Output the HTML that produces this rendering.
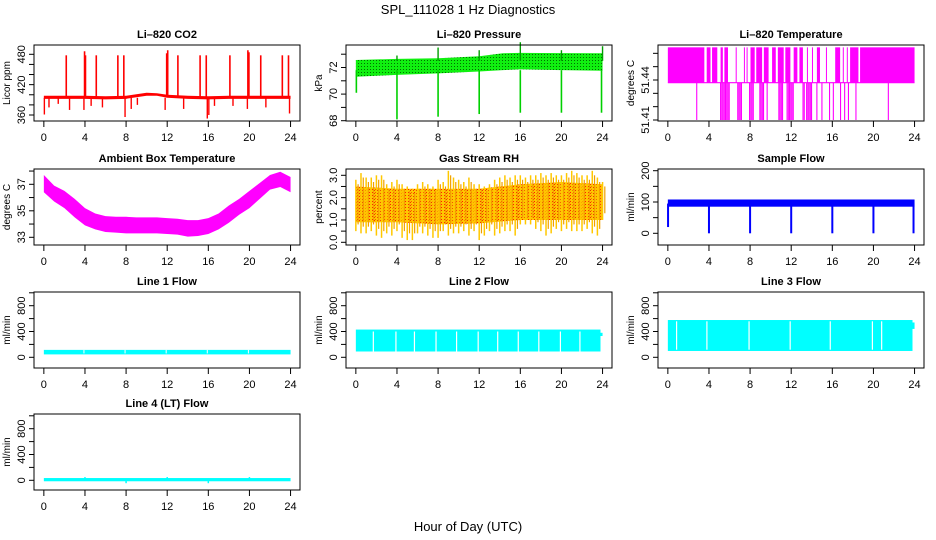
<!DOCTYPE html>
<html><head><meta charset="utf-8"><style>
html,body{margin:0;padding:0;background:#fff;}
svg{display:block;font-family:"Liberation Sans",Arial,sans-serif;}
</style></head><body>
<svg id="chart" width="936" height="540" viewBox="0 0 936 540" xmlns="http://www.w3.org/2000/svg">
<defs>
<pattern id="rhpat" width="3" height="3" patternUnits="userSpaceOnUse"><rect width="3" height="3" fill="#ffc400"/><rect x="0" y="0" width="1" height="1" fill="#ff2000"/><rect x="2" y="1" width="1" height="1" fill="#f03000"/></pattern>
<pattern id="prpat" width="3" height="3" patternUnits="userSpaceOnUse"><rect width="3" height="3" fill="#10f010"/><rect x="1" y="0" width="1" height="1" fill="#007000"/></pattern>
</defs>
<text x="468" y="14" text-anchor="middle" font-size="13">SPL_111028  1 Hz Diagnostics</text>
<text x="468" y="531" text-anchor="middle" font-size="13">Hour of Day (UTC)</text>
</svg>
<script>
// ---------- data ----------
const xTicks=[0,4,8,12,16,20,24];
// CO2
const co2BaseHours=[0,2,4,6,8,9,10,11,12,14,16,18,20,22,24];
const co2BaseLo=[392,392,392,391,392,395,398,398,394,392,391,392,392,392,392];
const co2BaseHi=[398,398,398,397,398,401,404,403,400,398,397,398,398,398,398];
const co2SpikeHours=[2.18,3.96,4.05,5.1,7.2,7.78,11.95,12.05,13.04,15.2,15.8,18.1,19.85,19.95,21.1,23.2,23.8];
const co2SpikeValues=[478,486,478,478,478,478,482,488,478,478,478,478,488,484,478,478,478];
const co2DipHours=[0.05,0.5,1.4,2.5,3.9,4.6,5.7,7.9,8.5,9.1,11.8,13.6,15.9,16.05,16.6,18.4,19.8,21.6,23.9];
const co2DipValues=[361,375,382,370,370,378,375,356,372,380,370,372,353,360,378,378,372,375,363];
const co2Ticks=[360,380,400,420,440,460,480];
const co2Labels=["360","","","420","","","480"];
// Pressure
const prHours=[0,4,8,12,14.3,16,20,24];
const prLo=[71.3,71.45,71.56,71.7,71.8,71.86,71.8,71.76];
const prHi=[72.56,72.65,72.7,72.85,73.07,73.1,73.08,73.07];
const prDipHours=[0.05,4.0,8.0,12.0,16.0,20.0,23.9];
const prDipValues=[70.1,68.1,68.3,68.5,68.6,68.6,68.6];
const prUpHours=[4.0,8.0,12.0,16.0,20.0,24.0];
const prUpValues=[72.9,73.5,73.3,73.9,73.3,73.6];
const prTicks=[68,69,70,71,72,73];
const prLabels=["68","","70","","72",""];
// Li-820 temperature
const ltHigh=51.4645, ltMid=51.438, ltLow=51.41;
const ltUpStart=[0,3.78,4.3,5.13,5.5,6.6,7.4,7.66,8.04,8.6,9.34,10.14,10.7,11.43,12.24,12.8,13.53,14.02,14.5,15.38,16.28,17.02,17.41,17.73,18.7];
const ltUpEnd=[3.55,4.15,4.81,5.35,5.85,6.65,7.45,7.7,8.45,9.17,9.8,10.5,11.27,11.92,12.6,13.14,13.58,14.07,14.8,15.43,16.76,17.07,17.46,18.54,24];
const ltLowStart=[2.81,5.13,6.8,7.95,8.95,9.66,10.8,11.6,13.15,13.5,14.5,14.99,15.73,16.1,16.8,17.2,17.57,18.3,21.45];
const ltLowEnd=[2.86,6.0,7.2,8.4,9.4,9.7,11.27,12.24,13.37,14.0,14.55,15.03,15.77,16.15,16.85,17.25,17.62,18.35,21.5];
const ltTicks=[51.41,51.42,51.43,51.44,51.45,51.46];
const ltLabels=["51.41","","","51.44","",""];
// Ambient box temperature
const ambHours=[0,1,2,3,4,5,6,7,8,9,10,11,12,13,14,15,16,17,18,19,20,21,22,23,24];
const ambLo=[36.4,35.7,35.2,34.5,33.9,33.6,33.4,33.35,33.3,33.3,33.3,33.3,33.25,33.2,33.05,33.1,33.25,33.6,34.1,34.7,35.2,35.9,36.6,36.8,36.4];
const ambHi=[37.7,36.9,36.5,35.9,35.2,34.8,34.6,34.55,34.55,34.5,34.5,34.5,34.45,34.4,34.3,34.3,34.45,34.8,35.4,35.9,36.5,37.1,37.7,37.95,37.55];
const ambTicks=[33,34,35,36,37,38];
const ambLabels=["33","","35","","37",""];
// Gas stream RH
const rhHours=[0,0.5,1,1.5,2,2.5,3,3.5,4,4.5,5,5.5,6,6.5,7,7.5,8,8.5,9,9.5,10,10.5,11,11.5,12,12.5,13,13.5,14,14.5,15,15.5,16,16.5,17,17.5,18,18.5,19,19.5,20,20.5,21,21.5,22,22.5,23,23.5,24];
const rhHi=[2.8,3.1,2.9,2.9,3.0,3.0,2.6,2.7,2.8,2.6,2.5,2.4,2.6,2.7,2.6,2.5,2.8,2.7,3.2,2.9,2.8,2.7,2.9,2.6,2.6,2.5,2.6,2.8,2.9,3.0,2.9,3.0,3.0,2.9,3.0,3.0,3.1,3.0,3.1,3.0,3.0,3.1,3.2,3.1,3.0,3.0,3.2,2.9,2.7];
const rhLo=[0.5,0.4,0.4,0.5,0.3,0.2,0.4,0.3,0.5,0.2,0.1,0.1,0.4,0.4,0.3,0.2,0.2,0.5,0.3,0.4,0.4,0.5,0.3,0.5,0.1,0.3,0.5,0.3,0.4,0.5,0.5,0.3,0.8,0.8,0.8,0.6,0.5,0.3,0.4,0.6,0.5,0.6,0.5,0.5,0.5,0.6,0.4,0.3,1.0];
const rhCoreHours=[0,4,8,12,16,20,24];
const rhCoreLo=[0.9,0.9,0.8,0.85,1.0,1.0,1.0];
const rhCoreHi=[2.5,2.4,2.4,2.4,2.6,2.7,2.6];
const rhTicks=[0,0.5,1,1.5,2,2.5,3];
const rhLabels=["0.0","","1.0","","2.0","","3.0"];
// Sample flow
const sfBandLo=85, sfBandHi=108;
const sfDipHours=[0.02,4.0,8.0,12.0,16.0,20.0,23.9];
const sfDipValues=[20,0,0,0,0,0,0];
const sfTicks=[0,50,100,150,200];
const sfLabels=["0","","100","","200"];
// Line flows
const lfTicks=[0,200,400,600,800,1000];
const lfLabels=["0","","400","","800",""];
const l1Lo=45, l1Hi=115, l1GapHours=[3.9,7.9,11.9,15.9,19.9];
const l2Lo=90, l2Hi=430, l2End=23.8, l2GapHours=[1.7,3.9,5.7,7.8,9.8,11.9,13.8,15.8,17.8,19.9,21.8];
const l3Lo=98, l3Hi=578, l3End=23.8, l3GapHours=[0.85,3.8,7.9,11.9,15.8,19.9,20.8];
const l4Lo=-15, l4Hi=35, l4BlipHours=[4,8,12,16,20], l4BlipValues=[50,-45,50,-45,50];

// ---------- layout ----------
const svg=document.getElementById('chart');
const NS='http://www.w3.org/2000/svg';
const cols=[34,346,658], rowsT=[45,169,292,414], PW=266, PH=76;
function mk(tag,attrs,parent){const e=document.createElementNS(NS,tag);for(const k in attrs)e.setAttribute(k,attrs[k]);(parent||svg).appendChild(e);return e;}
function panel(c,r,name,title,ylab,ticks,labels,v1,p1,v2,p2){
  const L=cols[c],T=rowsT[r];
  const g=mk('g',{});
  
  
  const x=h=>L+9.85+h*(246.7/24);
  const y=v=>p1+(v-v1)*(p2-p1)/(v2-v1);
  const plot=mk('g',{},g);
  
  
  const box=mk('rect',{x:L,y:T,width:PW,height:PH,fill:'none',stroke:'#000','stroke-width':1},g);
  
  
  const tt=mk('text',{x:L+PW/2,y:T-7,'text-anchor':'middle','font-size':11,'font-weight':'bold'},g);
  
  
  tt.textContent=title;
  const yl=mk('text',{x:L-24,y:T+PH/2,'text-anchor':'middle','font-size':10,transform:`rotate(-90 ${L-24} ${T+PH/2})`},g);
  
  
  yl.textContent=ylab;
  const xa=mk('g',{},g);
  
  
  xTicks.forEach(h=>{
    mk('line',{x1:x(h),x2:x(h),y1:T+PH,y2:T+PH+6,stroke:'#000'},xa);
    const t=mk('text',{x:x(h),y:T+PH+20,'text-anchor':'middle','font-size':11},xa);
    
    
    t.textContent=h;
  });
  const ya=mk('g',{},g);
  
  
  ticks.forEach((v,i)=>{
    const yy=y(v);
    mk('line',{x1:L-5,x2:L,y1:yy,y2:yy,stroke:'#000'},ya);
    if(labels[i]){const t=mk('text',{x:L-9,y:yy,'text-anchor':'middle','font-size':11,transform:`rotate(-90 ${L-9} ${yy})`},ya);
    
    
    t.textContent=labels[i];}
  });
  return {x,y,g:plot};
}
function band(p,hours,lo,hi,fill){
  let d='M'+hours.map((h,i)=>p.x(h)+','+p.y(hi[i])).join(' L');
  for(let i=hours.length-1;i>=0;i--)d+=' L'+p.x(hours[i])+','+p.y(lo[i]);
  return mk('path',{d:d+'Z',fill:fill},p.g);
}
function vline(p,h,a,b,col,w){return mk('line',{x1:p.x(h),x2:p.x(h),y1:p.y(a),y2:p.y(b),stroke:col,'stroke-width':w||1.5},p.g);}
function hrect(p,h1,h2,a,b,fill){return mk('rect',{x:p.x(h1),width:Math.max(1,p.x(h2)-p.x(h1)),y:p.y(b),height:p.y(a)-p.y(b),fill:fill},p.g);}

// CO2
let p=panel(0,0,'co2','Li\u2013820 CO2','Licor ppm',co2Ticks,co2Labels,360,115,480,54.3);
band(p,co2BaseHours,co2BaseLo,co2BaseHi,'#ff0000');
co2SpikeHours.forEach((h,i)=>vline(p,h,396,co2SpikeValues[i],'#ff0000',1.6));
co2DipHours.forEach((h,i)=>vline(p,h,394,co2DipValues[i],'#ff0000',1.4));
// Pressure
p=panel(1,0,'pressure','Li\u2013820 Pressure','kPa',prTicks,prLabels,68,120.7,72,67.5);
band(p,prHours,prLo,prHi,'url(#prpat)');
prDipHours.forEach((h,i)=>vline(p,h,71.8,prDipValues[i],'#00d000',1.6));
prUpHours.forEach((h,i)=>vline(p,h,72.5,prUpValues[i],'#00a000',1.4));
// Li temperature
p=panel(2,0,'li820-temperature','Li\u2013820 Temperature','degrees C',ltTicks,ltLabels,51.41,120,51.44,80);
ltUpStart.forEach((s,i)=>hrect(p,s,ltUpEnd[i],ltMid,ltHigh,'#ff00ff'));
mk('line',{x1:p.x(0),x2:p.x(24),y1:p.y(ltMid),y2:p.y(ltMid),stroke:'#ff00ff','stroke-width':1.2},p.g);
ltLowStart.forEach((s,i)=>{for(let h=s;h<=ltLowEnd[i]+1e-6;h+=0.12)vline(p,h,ltMid,ltLow,'#ff00ff',1.1);});
// Ambient
p=panel(0,1,'ambient-temperature','Ambient Box Temperature','degrees C',ambTicks,ambLabels,33,237.3,37,184.3);
band(p,ambHours,ambLo,ambHi,'#ff00ff');
// RH
p=panel(1,1,'gas-stream-rh','Gas Stream RH','percent',rhTicks,rhLabels,0,242.3,3,175.3);
band(p,rhCoreHours,rhCoreLo,rhCoreHi,'url(#rhpat)');
rhHours.forEach((h,i)=>{vline(p,h,rhLo[i],rhHi[i],'#ffc800',1.5);vline(p,h+0.22,rhLo[i]+0.3,rhHi[i]-0.2,'#f0a000',1.2);});
// Sample flow
p=panel(2,1,'sample-flow','Sample Flow','ml/min',sfTicks,sfLabels,0,233.3,200,170.7);
hrect(p,0,24,sfBandLo,sfBandHi,'#0000ff');
sfDipHours.forEach((h,i)=>vline(p,h,95,sfDipValues[i],'#0000ff',2));
// Line 1
p=panel(0,2,'line1-flow','Line 1 Flow','ml/min',lfTicks,lfLabels,0,357.3,800,305.7);
hrect(p,0,24,l1Lo,l1Hi,'#00ffff');
l1GapHours.forEach(h=>vline(p,h,l1Lo+15,l1Hi,'#ffffff',1));
// Line 2
p=panel(1,2,'line2-flow','Line 2 Flow','ml/min',lfTicks,lfLabels,0,357.3,800,305.7);
hrect(p,0,l2End,l2Lo,l2Hi,'#00ffff');
hrect(p,l2End,24,330,380,'#00ffff');
l2GapHours.forEach(h=>vline(p,h,l2Lo,l2Hi-30,'#ffffff',1.2));
// Line 3
p=panel(2,2,'line3-flow','Line 3 Flow','ml/min',lfTicks,lfLabels,0,357.3,800,305.7);
hrect(p,0,l3End,l3Lo,l3Hi,'#00ffff');
hrect(p,l3End,24,440,540,'#00ffff');
l3GapHours.forEach(h=>vline(p,h,l3Lo+20,l3Hi-20,'#ffffff',1.2));
// Line 4
p=panel(0,3,'line4-flow','Line 4 (LT) Flow','ml/min',lfTicks,lfLabels,0,480.3,800,428.7);
hrect(p,0,24,l4Lo,l4Hi,'#00ffff');
l4BlipHours.forEach((h,i)=>vline(p,h,10,l4BlipValues[i],'#00ffff',1.5));
</script>
</body></html>
